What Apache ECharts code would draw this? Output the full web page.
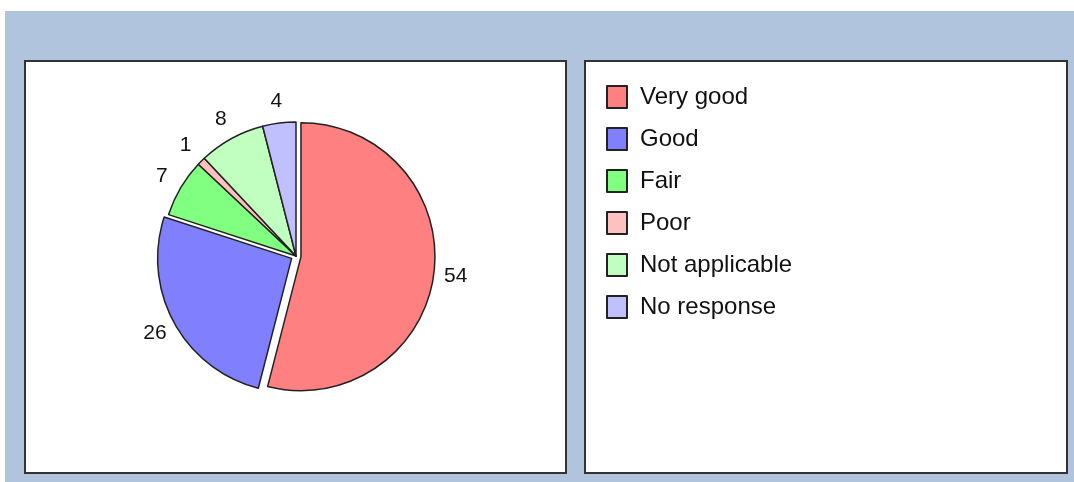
<!DOCTYPE html>
<html>
<head>
<meta charset="utf-8">
<title>Rating breakdown</title>
<script src="https://cdn.jsdelivr.net/npm/echarts@6/dist/echarts.min.js"></script>
<style>
  html, body { margin: 0; padding: 0; background: #ffffff; }
  #chart { width: 1074px; height: 482px; }
</style>
</head>
<body>
<div id="chart"></div>
<script>
// Survey answers and their counts
const categories = ['Very good', 'Good', 'Fair', 'Poor', 'Not applicable', 'No response'];
const counts = [54, 26, 7, 1, 8, 4];
const sliceColors = ['#ff8080', '#8080ff', '#80ff80', '#ffc0c0', '#c0ffc0', '#c0c0ff'];
// Slices pulled out from the centre
const explodedSlices = ['Very good', 'Good'];

const FONT = '"Liberation Sans", Arial, sans-serif';
const OUTLINE = '#222222';

const chart = echarts.init(document.getElementById('chart'), null, { renderer: 'canvas' });

const pieData = categories.map((name, i) => ({
  name: name,
  value: counts[i],
  selected: explodedSlices.includes(name),
  itemStyle: { color: sliceColors[i] }
}));

const panelStyle = { fill: '#ffffff', stroke: '#333333', lineWidth: 2 };

chart.setOption({
  animation: false,
  backgroundColor: '#ffffff',
  graphic: [
    { type: 'rect', z: -10, silent: true, shape: { x: 5, y: 11, width: 1069, height: 471 }, style: { fill: '#b0c4de' } },
    { type: 'rect', z: -9, silent: true, shape: { x: 25, y: 61, width: 541, height: 412 }, style: panelStyle },
    { type: 'rect', z: -9, silent: true, shape: { x: 585, y: 61, width: 482, height: 412 }, style: panelStyle }
  ],
  legend: {
    orient: 'vertical',
    left: 606,
    top: 85,
    padding: 0,
    itemWidth: 20,
    itemHeight: 22,
    itemGap: 18,
    icon: 'rect',
    selectedMode: false,
    itemStyle: { borderColor: OUTLINE, borderWidth: 2 },
    textStyle: { fontFamily: FONT, fontSize: 24, color: '#111111', padding: [0, 0, 0, 8] },
    data: categories
  },
  series: [{
    type: 'pie',
    center: [296, 256],
    radius: 134,
    startAngle: 90,
    clockwise: true,
    selectedMode: 'multiple',
    selectedOffset: 5,
    avoidLabelOverlap: false,
    itemStyle: { borderColor: OUTLINE, borderWidth: 1.5 },
    select: { itemStyle: { borderColor: OUTLINE, borderWidth: 1.5 } },
    emphasis: { disabled: true },
    label: {
      show: true,
      position: 'outside',
      formatter: '{c}',
      fontFamily: FONT,
      fontSize: 21,
      color: '#111111',
      distanceToLabelLine: 0
    },
    labelLine: { show: true, length: 22, length2: 0, lineStyle: { opacity: 0 } },
    labelLayout: { align: 'center', verticalAlign: 'middle' },
    data: pieData
  }]
});
</script>
</body>
</html>
